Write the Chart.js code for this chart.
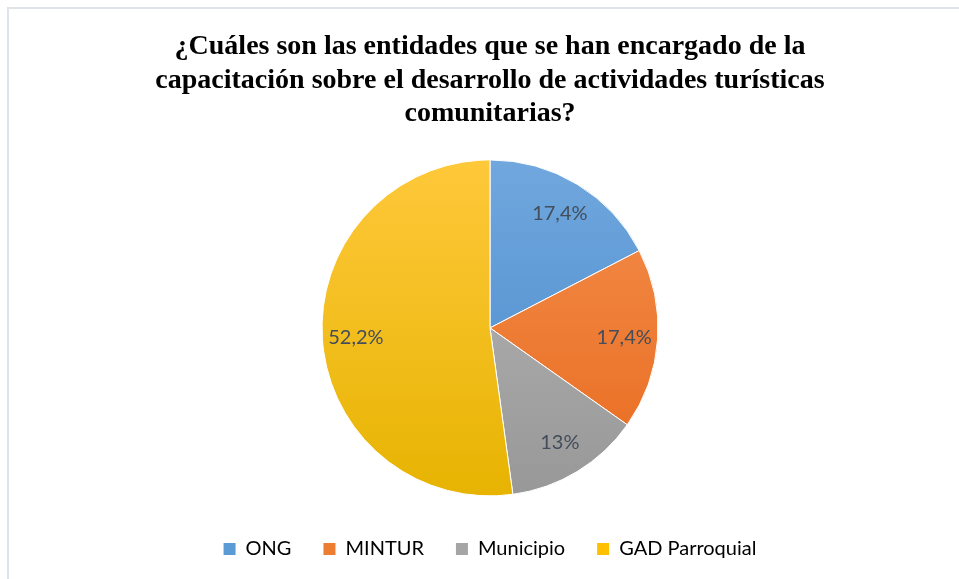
<!DOCTYPE html>
<html>
<head>
<meta charset="utf-8">
<script src="https://cdn.jsdelivr.net/npm/chart.js@4.4.1/dist/chart.umd.min.js"></script>
<style>
  html, body { margin: 0; padding: 0; background: #fff; }
  body { width: 959px; height: 579px; position: relative; overflow: hidden; }
  .frame { position: absolute; left: 7px; top: 7px; width: 960px; height: 600px;
           border-top: 2px solid #dfe4ea; border-left: 2px solid #dfe4ea; }
  .wrap { position: absolute; left: 21px; top: 0; width: 938px; height: 579px; }
</style>
</head>
<body>
<div class="frame"></div>
<div class="wrap"><canvas id="pieChart"></canvas></div>
<script>
// Data
const categories = ['ONG', 'MINTUR', 'Municipio', 'GAD Parroquial'];
const counts = [4, 4, 3, 12];
const percentLabels = ['17,4%', '17,4%', '13%', '52,2%'];
const titleLines = [
  '¿Cuáles son las entidades que se han encargado de la',
  'capacitación sobre el desarrollo de actividades turísticas',
  'comunitarias?'
];

// top / bottom gradient colours for each slice
const topColors = ['#72a8de', '#f4904f', '#b8b8b8', '#ffc93c'];
const bottomColors = ['#4688cb', '#e8691c', '#979797', '#e6b300'];
const baseColors = ['#5b9bd5', '#ed7d31', '#a5a5a5', '#ffc000'];

function sliceFill(context) {
  const chart = context.chart;
  const area = chart.chartArea;
  if (!area) return baseColors[context.dataIndex];
  const g = chart.ctx.createLinearGradient(0, area.top, 0, area.bottom);
  g.addColorStop(0, topColors[context.dataIndex]);
  g.addColorStop(1, bottomColors[context.dataIndex]);
  return g;
}

// percent labels inside the slices
const sliceLabels = {
  id: 'sliceLabels',
  afterDatasetsDraw(chart) {
    const ctx = chart.ctx;
    const meta = chart.getDatasetMeta(0);
    ctx.save();
    ctx.font = '20px Lato';
    ctx.fillStyle = '#434d5b';
    ctx.textAlign = 'center';
    ctx.textBaseline = 'middle';
    meta.data.forEach((arc, i) => {
      const p = arc.getProps(['x', 'y', 'startAngle', 'endAngle', 'outerRadius'], true);
      const mid = (p.startAngle + p.endAngle) / 2;
      const r = p.outerRadius * 0.8;
      ctx.fillText(percentLabels[i], p.x + Math.cos(mid) * r, p.y + Math.sin(mid) * r);
    });
    ctx.restore();
  }
};

const ctx = document.getElementById('pieChart').getContext('2d');
new Chart(ctx, {
  type: 'pie',
  data: {
    labels: categories,
    datasets: [{
      data: counts,
      backgroundColor: sliceFill,
      borderColor: '#ffffff',
      borderWidth: 1,
      radius: 168
    }]
  },
  options: {
    responsive: true,
    maintainAspectRatio: false,
    animation: false,
    layout: { padding: { top: 0, bottom: 10 } },
    plugins: {
      title: {
        display: true,
        text: titleLines,
        color: '#000',
        font: { family: 'Liberation Serif', size: 28, weight: 'bold', lineHeight: 1.2 },
        padding: { top: 30, bottom: 18 }
      },
      legend: {
        position: 'bottom',
        labels: {
          boxWidth: 12,
          boxHeight: 12,
          padding: 32,
          color: '#434d5b',
          font: { family: 'Lato', size: 20 },
          generateLabels(chart) {
            return categories.map((c, i) => ({
              text: c,
              fillStyle: baseColors[i],
              strokeStyle: baseColors[i],
              lineWidth: 0,
              index: i
            }));
          }
        }
      },
      tooltip: { enabled: false }
    }
  },
  plugins: [sliceLabels]
});
</script>
</body>
</html>
